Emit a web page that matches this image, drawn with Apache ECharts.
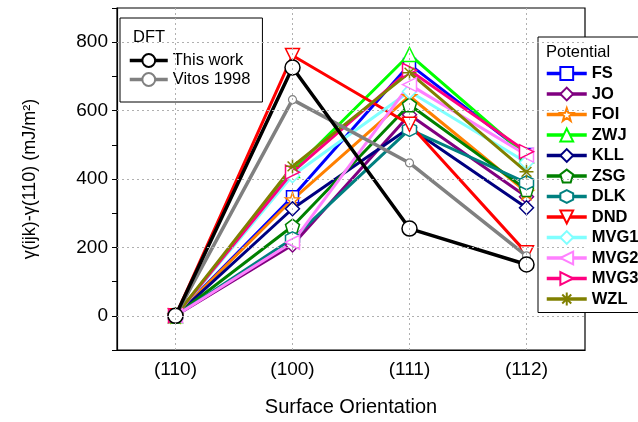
<!DOCTYPE html>
<html>
<head>
<meta charset="utf-8">
<script src="https://cdn.jsdelivr.net/npm/echarts@6/dist/echarts.min.js"></script>
<style>html,body{margin:0;padding:0;background:#fff;}#c{width:638px;height:422px;}</style>
</head>
<body>
<div id="c"></div>
<script>
const categories = ['(110)', '(100)', '(111)', '(112)'];
const yTickValues = [0, 200, 400, 600, 800];
const thisWork  = [0, 726, 255, 150];
const vitos1998 = [0, 632, 447, 175];
const FS   = [0, 348, 735, 472];
const JO   = [0, 207, 588, 348];
const FOI  = [0, 340, 642, 362];
const ZWJ  = [0, 425, 764, 468];
const KLL  = [0, 313, 550, 316];
const ZSG  = [0, 262, 617, 369];
const DLK  = [0, 225, 545, 389];
const DND  = [0, 761, 560, 184];
const MVG1 = [0, 410, 656, 448];
const MVG2 = [0, 215, 676, 470];
const MVG3 = [0, 420, 718, 480];
const WZL  = [0, 437, 711, 421];

const FONT = '"Liberation Sans", Arial, sans-serif';
const SYM = {
  star: 'path://M0,-10 L2.35,-3.24 L9.51,-3.09 L3.8,1.24 L5.88,8.09 L0,4 L-5.88,8.09 L-3.8,1.24 L-9.51,-3.09 L-2.35,-3.24 Z',
  pentagon: 'path://M0,-10 L9.51,-3.09 L5.88,8.09 L-5.88,8.09 L-9.51,-3.09 Z',
  hexagon: 'path://M0,-10 L8.66,-5 L8.66,5 L0,10 L-8.66,5 L-8.66,-5 Z',
  down: 'path://M-10,-9 L10,-9 L0,9 Z',
  left: 'path://M-9,0 L9,-10 L9,10 Z',
  right: 'path://M9,0 L-9,-10 L-9,10 Z',
  asterisk: 'path://M-10,0 L10,0 M0,-10 L0,10 M-7,-7 L7,7 M-7,7 L7,-7'
};
const potentials = [
  ['FS', FS, '#0000ff', 'rect', 12],
  ['JO', JO, '#800080', 'diamond', 14],
  ['FOI', FOI, '#ff8000', SYM.star, 14],
  ['ZWJ', ZWJ, '#00ff00', 'triangle', 14],
  ['KLL', KLL, '#000080', 'diamond', 14],
  ['ZSG', ZSG, '#008000', SYM.pentagon, 14],
  ['DLK', DLK, '#008080', SYM.hexagon, 14],
  ['DND', DND, '#ff0000', SYM.down, 14],
  ['MVG1', MVG1, '#80ffff', 'diamond', 14],
  ['MVG2', MVG2, '#ff80ff', SYM.left, 14],
  ['MVG3', MVG3, '#ff0080', SYM.right, 14],
  ['WZL', WZL, '#808000', SYM.asterisk, 14]
];

const series = [];
series.push({
  name: '_grid', type: 'line', data: [], z: 1, silent: true,
  markLine: {
    silent: true, symbol: ['none', 'none'], label: { show: false },
    lineStyle: { color: '#b0b0b0', type: [2, 3], width: 1 },
    emphasis: { disabled: true },
    data: yTickValues.map(v => ({ yAxis: v })).concat(categories.map(c => ({ xAxis: c })))
  }
});
potentials.forEach(p => {
  series.push({
    name: p[0], type: 'line', data: p[1], z: 2,
    symbol: p[3], symbolSize: p[4],
    lineStyle: { color: p[2], width: 3 },
    itemStyle: { color: '#fff', borderColor: p[2], borderWidth: 1.5 },
    emphasis: { disabled: true }
  });
});
series.push({
  name: 'Vitos 1998', type: 'line', data: vitos1998, z: 3,
  symbol: 'circle', symbolSize: 8,
  lineStyle: { color: '#808080', width: 3.5 },
  itemStyle: { color: '#fff', borderColor: '#808080', borderWidth: 1.2 },
  emphasis: { disabled: true }
});
series.push({
  name: 'This work', type: 'line', data: thisWork, z: 3,
  symbol: 'circle', symbolSize: 15,
  lineStyle: { color: '#000', width: 3.5 },
  itemStyle: { color: '#fff', borderColor: '#000', borderWidth: 1.5 },
  emphasis: { disabled: true }
});

const chart = echarts.init(document.getElementById('c'), null, { renderer: 'canvas' });
chart.setOption({
  animation: false,
  backgroundColor: '#fff',
  grid: { left: 117, right: 53, top: 8, bottom: 72, show: true, borderColor: '#000', borderWidth: 1.2, backgroundColor: 'transparent' },
  xAxis: {
    type: 'category', data: categories, boundaryGap: true,
    name: 'Surface Orientation', nameLocation: 'middle', nameGap: 47,
    nameTextStyle: { fontFamily: FONT, fontSize: 20, color: '#000' },
    axisLine: { onZero: false, lineStyle: { color: '#000', width: 1.2 } },
    axisTick: { alignWithLabel: true, length: 5, lineStyle: { color: '#000' } },
    axisLabel: { fontFamily: FONT, fontSize: 19, color: '#000', margin: 10 },
    splitLine: { show: false }
  },
  yAxis: {
    type: 'value', min: -100, max: 900, interval: 100,
    name: 'γ(ijk)-γ(110) (mJ/m²)', nameLocation: 'middle', nameGap: 78,
    nameTextStyle: { fontFamily: FONT, fontSize: 18, color: '#000' },
    axisLine: { show: true, lineStyle: { color: '#000', width: 1.2 } },
    axisTick: { show: true, length: 5, lineStyle: { color: '#000' } },
    axisLabel: {
      fontFamily: FONT, fontSize: 19, color: '#000', margin: 9,
      formatter: v => (yTickValues.indexOf(v) >= 0 ? String(v) : '')
    },
    splitLine: { show: false }
  },
  legend: [
    {
      data: ['This work', 'Vitos 1998'],
      orient: 'vertical', left: 120, top: 18,
      padding: [34, 12, 14, 8], itemWidth: 38, itemHeight: 16, itemGap: 2,
      lineStyle: { width: 3.5 },
      backgroundColor: '#fff', borderColor: '#000', borderWidth: 1,
      textStyle: { fontFamily: FONT, fontSize: 16.5, color: '#000' },
      selectedMode: false
    },
    {
      data: potentials.map(p => p[0]),
      orient: 'vertical', left: 538, top: 37,
      padding: [28, 6, 5, 7], itemWidth: 40, itemHeight: 16, itemGap: 3.5,
      lineStyle: { width: 3.5 },
      backgroundColor: '#fff', borderColor: '#000', borderWidth: 1,
      textStyle: { fontFamily: FONT, fontSize: 16.5, fontWeight: 'bold', color: '#000' },
      selectedMode: false
    }
  ],
  graphic: [
    { type: 'text', left: 133, top: 29, z: 100, style: { text: 'DFT', fontFamily: FONT, fontSize: 16.5, fill: '#000' } },
    { type: 'text', left: 546, top: 44, z: 100, style: { text: 'Potential', fontFamily: FONT, fontSize: 16.5, fill: '#000' } }
  ],
  series: series
});
</script>
</body>
</html>
